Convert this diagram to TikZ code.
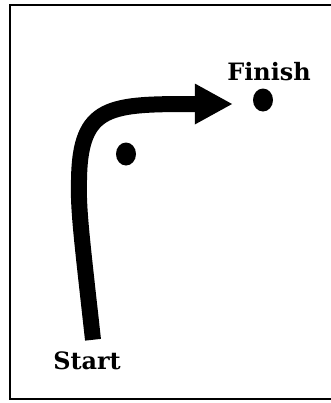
\documentclass[tikz,border=0pt]{standalone}
\usepackage{fontspec}
\setmainfont{DejaVu Serif}
\usepackage{tikz}
\usetikzlibrary{arrows.meta,positioning,shapes.geometric}

\begin{document}
\begin{tikzpicture}[
  x=1bp, y=-1bp,
  dot/.style={ellipse, fill=black, minimum width=20bp, minimum height=23bp, inner sep=0pt},
  lbl/.style={font=\fontsize{24}{28}\selectfont\bfseries, inner sep=0pt},
  path/.style={line width=16bp, -{Triangle[length=38bp, width=38bp]}}
]
\useasboundingbox (0,0) rectangle (331,403);

% frame
\draw[line width=1.5bp] (331,5) -- (10,5) -- (10,399) -- (331,399);

% places
\node[lbl] (start) at (87,361) {Start};
\node[lbl] (finish) at (269,72) {Finish};
\node[dot] (findot) at (263,100) {};
\node[dot] (middot) at (126,154) {};

% route
\draw[path, shorten >=20bp] ([xshift=6bp, yshift=12bp]start.north)
  .. controls (82,240) and (78,210) .. (79,180)
  .. controls (80,104) and (110,104) .. ([yshift=-4bp]findot.west);

\end{tikzpicture}
\end{document}
